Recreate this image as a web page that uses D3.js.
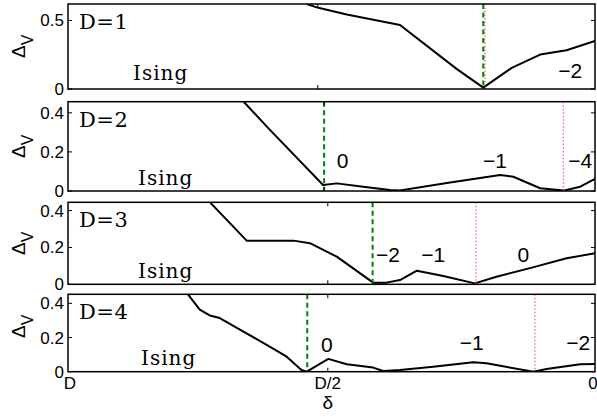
<!DOCTYPE html>
<html><head><meta charset="utf-8">
<script src="https://cdn.jsdelivr.net/npm/d3@7.8.5/dist/d3.min.js"></script>
<style>body{margin:0;background:#fff}svg{display:block}</style>
</head><body><svg id="chart" width="597" height="417"></svg>
<script>
// ---- data (x = delta/D, 1 at left, 0 at right) ----
const panelNames = ["D=1", "D=2", "D=3", "D=4"];
const d1 = [0.547, 0.525, 0.471, 0.370, 0.262, 0.212, 0.158, 0.104, 0.054, 0.0];
const v1 = [0.620, 0.592, 0.543, 0.467, 0.145, 0.010, 0.154, 0.251, 0.283, 0.350];
const d2 = [0.667, 0.620, 0.516, 0.490, 0.440, 0.389, 0.370, 0.275, 0.180, 0.155, 0.104, 0.060, 0.028, 0.0];
const v2 = [0.458, 0.322, 0.031, 0.039, 0.022, 0.005, 0.003, 0.044, 0.082, 0.073, 0.014, 0.002, 0.022, 0.062];
const d3v = [0.731, 0.661, 0.572, 0.541, 0.509, 0.490, 0.421, 0.396, 0.370, 0.338, 0.288, 0.228, 0.187, 0.118, 0.054, 0.0];
const v3 = [0.446, 0.237, 0.237, 0.223, 0.177, 0.150, 0.009, 0.009, 0.023, 0.074, 0.045, 0.005, 0.041, 0.092, 0.141, 0.168];
const d4 = [0.772, 0.750, 0.731, 0.712, 0.667, 0.623, 0.585, 0.557, 0.547, 0.506, 0.471, 0.421, 0.402, 0.370, 0.307, 0.231, 0.206, 0.117, 0.092, 0.028, 0.0];
const v4 = [0.451, 0.363, 0.329, 0.314, 0.235, 0.157, 0.088, 0.010, 0.000, 0.075, 0.044, 0.024, 0.004, 0.010, 0.029, 0.055, 0.049, 0.000, 0.016, 0.044, 0.045];
const greenLines = [0.212, 0.514, 0.422, 0.546];
const redLines = [0.209, 0.060, 0.226, 0.114];
const yTicks = [[0, 0.5], [0, 0.2, 0.4], [0, 0.2, 0.4], [0, 0.2, 0.4]];
const yTickLabels = [["0", "0.5"], ["0", "0.2", "0.4"], ["0", "0.2", "0.4"], ["0", "0.2", "0.4"]];
const midTicks = [0.526, 0.514, 0.507, 0.507];
const xTicks = [1, 0.507, 0];
const xTickLabels = ["D", "D/2", "0"];
const sectorText = [["−2"], ["0", "−1", "−4"], ["−2", "−1", "0"], ["0", "−1", "−2"]];
const sectorD = [[0.047], [0.479, 0.190, 0.028], [0.393, 0.307, 0.136], [0.509, 0.234, 0.032]];
const sectorV = [[0.08], [0.12, 0.12, 0.12], [0.123, 0.123, 0.123], [0.118, 0.128, 0.128]];

// ---- layout ----
const L = 68, R = 595;
const boxes = [[4, 89], [101.7, 191], [202.3, 284.3], [294.3, 371.7]];
const yMax = [0.62, 0.457, 0.445, 0.453];
const SERIF = "'DejaVu Serif', 'Liberation Serif', serif";
const SANS = "'Liberation Sans', Arimo, Roboto, sans-serif";

const svg = d3.select("#chart");
const xs = d3.scaleLinear().domain([1, 0]).range([L, R]);
const ds = [d1, d2, d3v, d4], vs = [v1, v2, v3, v4];

function txt(sel, fam, size) {
  return sel.append("text").style("font-family", fam).style("font-size", size + "px");
}

boxes.forEach((b, i) => {
  const y = d3.scaleLinear().domain([0, yMax[i]]).range([b[1], b[0]]);
  const g = svg.append("g");
  g.append("clipPath").attr("id", "clip" + i).append("rect")
    .attr("x", L).attr("y", b[0]).attr("width", R - L).attr("height", b[1] - b[0]);
  const pts = ds[i].map((d, k) => [d, vs[i][k]]);
  g.append("path").attr("clip-path", `url(#clip${i})`)
    .attr("d", d3.line().x(p => xs(p[0])).y(p => y(p[1]))(pts))
    .attr("fill", "none").attr("stroke", "#000").attr("stroke-width", 2)
    .attr("stroke-linejoin", "round");
  g.append("line").attr("x1", xs(redLines[i])).attr("x2", xs(redLines[i]))
    .attr("y1", b[0]).attr("y2", b[1])
    .attr("stroke", "#ff5a5a").attr("stroke-width", 1.2).attr("stroke-dasharray", "1.5,2");
  g.append("line").attr("x1", xs(greenLines[i])).attr("x2", xs(greenLines[i]))
    .attr("y1", b[0]).attr("y2", b[1])
    .attr("stroke", "#008000").attr("stroke-width", 2).attr("stroke-dasharray", "5,3.5");
  g.append("rect").attr("x", L).attr("y", b[0]).attr("width", R - L).attr("height", b[1] - b[0])
    .attr("fill", "none").attr("stroke", "#000").attr("stroke-width", 1.5);
  yTicks[i].forEach((t, k) => {
    const yy = y(t);
    g.append("line").attr("x1", L).attr("x2", L + 4).attr("y1", yy).attr("y2", yy).attr("stroke", "#000");
    g.append("line").attr("x1", R - 4).attr("x2", R).attr("y1", yy).attr("y2", yy).attr("stroke", "#000");
    txt(g, SANS, 17).attr("x", L - 4).attr("y", yy + 6).attr("text-anchor", "end").text(yTickLabels[i][k]);
  });
  const mx = xs(midTicks[i]);
  g.append("line").attr("x1", mx).attr("x2", mx).attr("y1", b[0]).attr("y2", b[0] + 4).attr("stroke", "#000");
  g.append("line").attr("x1", mx).attr("x2", mx).attr("y1", b[1] - 4).attr("y2", b[1]).attr("stroke", "#000");
  txt(g, SERIF, 21).attr("x", L + 11).attr("y", b[0] + 25).attr("letter-spacing", 0.5).text(panelNames[i]);
  txt(g, SERIF, 20).attr("x", i === 0 ? 133 : (i === 3 ? 141 : 138)).attr("y", b[1] - (i === 0 ? 9 : 6.5))
    .attr("letter-spacing", 1).text("Ising");
  sectorText[i].forEach((s, k) => {
    txt(g, SANS, 21).attr("x", xs(sectorD[i][k])).attr("y", y(sectorV[i][k]))
      .attr("text-anchor", "middle").text(s);
  });
  const cy = [58, 158, 255, 338][i];
  const t = txt(g, SANS, 19).attr("transform", `translate(25,${cy}) rotate(-90)`);
  t.append("tspan").text("Δ");
  t.append("tspan").attr("dy", 8).style("font-size", "16px").text("V");
});

const bb = boxes[3][1];
xTicks.forEach((t, k) => {
  txt(svg, SANS, 17).attr("x", xs(t) + (k === 0 ? 2 : (k === 2 ? -2 : 0))).attr("y", bb + 17)
    .attr("text-anchor", "middle").text(xTickLabels[k]);
});
txt(svg, SANS, 19).attr("x", xs(0.507)).attr("y", bb + 37).attr("text-anchor", "middle").text("δ");
</script></body></html>
